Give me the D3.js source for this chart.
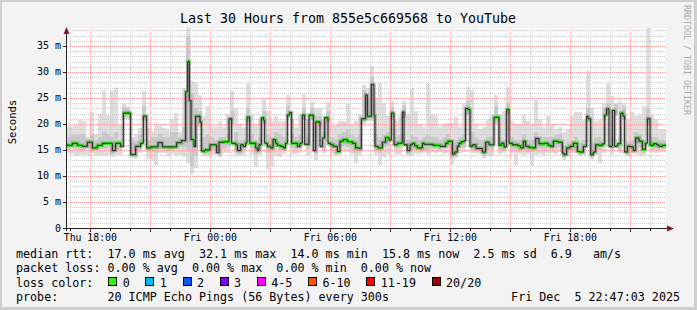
<!DOCTYPE html>
<meta charset="utf-8">
<html lang="en">
  <head>
    <script src="https://cdn.jsdelivr.net/npm/d3@7"></script>
    <style>
      body { margin: 0; background: #fff; }
      text { font-family: "DejaVu Sans Mono", monospace; }
    </style>
  </head>
  <body>
    <svg id="chart" width="697" height="310"></svg>

  <script>
    // median rtt as a step line: minutes after Thu 16:47:03 -> value in ms
    const medianMinutes = [0,19,34,49,64,79,94,109,139,149,164,172,194,209,224,232,242,254,276,289,
      332,346,359,365,370,375,384,389,402,406,417,432,452,459,474,489,497,509,514,524,
      532,539,543,551,569,574,579,586,593,596,604,614,621,629,634,644,652,659,664,671,
      677,694,702,709,716,729,742,749,762,769,776,786,794,802,814,822,832,844,859,869,
      879,886,899,904,916,924,927,936,949,959,969,976,984,994,1009,1014,1024,1032,1039,1046,
      1054,1069,1074,1102,1122,1139,1146,1159,1166,1174,1179,1186,1194,1199,1206,1212,1219,1230,1249,1259,
      1269,1284,1299,1306,1314,1322,1329,1339,1356,1364,1372,1379,1389,1399,1409,1419,1436,1446,1454,1462,
      1476,1489,1494,1502,1512,1522,1534,1542,1552,1562,1566,1574,1582,1589,1599,1609,1616,1622,1629,1639,
      1646,1654,1664,1671,1676,1684,1694,1702,1709,1719,1729,1739,1744,1752,1762,1772,1779,1789];
    const medianMs = [15.9,16.3,15.9,15.7,16.5,15.4,15.9,16.3,14.9,16.3,15.7,22.1,14.1,15.7,16.3,21.5,15.4,15.6,16.4,15.6,
      16.4,16.8,26.2,32.0,24.5,17.0,15.7,21.5,20.4,14.8,15.0,16.0,14.5,16.5,16.6,21.0,16.3,16.0,14.9,16.0,
      15.7,16.3,21.3,16.3,15.4,14.9,16.0,21.2,20.7,16.3,15.7,15.4,17.0,16.3,15.9,15.7,15.4,16.3,21.7,22.2,
      16.3,15.7,16.3,21.7,16.1,21.7,14.9,20.4,15.7,17.3,21.2,16.3,16.0,15.7,14.7,16.7,17.0,16.6,16.3,15.4,
      15.3,21.0,25.6,21.5,27.6,21.7,15.7,15.4,16.5,17.4,16.9,22.1,16.0,16.3,22.3,16.0,14.9,16.0,16.3,15.8,
      15.4,16.3,16.1,15.9,15.7,16.3,16.7,14.2,14.6,15.7,16.3,16.6,16.8,23.0,22.8,15.7,16.0,15.3,14.6,16.5,
      16.0,21.3,15.9,16.3,15.6,22.8,16.3,16.0,15.8,15.4,16.7,15.7,15.5,15.4,17.2,16.2,16.3,15.9,15.7,16.7,
      16.5,14.4,14.1,15.4,15.7,16.3,14.7,14.6,15.7,21.5,21.0,14.1,14.6,16.0,15.9,16.2,21.7,22.9,15.7,22.6,
      15.7,16.2,22.1,21.5,14.6,15.7,15.6,14.9,17.3,16.7,15.1,16.3,21.0,15.9,16.2,16.0,15.7,15.9];

    // smoke: 150 slots of 12 minutes each (ms)
    const smokeMax = [19.6,19.5,19.9,20.8,20.5,17.5,22.4,18.0,22.0,26.6,
      21.8,26.3,27.0,19.9,23.8,23.5,17.5,18.0,19.2,26.3,
      19.2,18.6,19.9,19.9,19.2,18.9,21.0,22.1,18.5,26.9,
      38.5,28.2,28.0,25.6,21.5,23.4,19.5,19.5,20.5,19.5,
      22.0,26.3,23.0,20.0,19.5,27.9,22.0,20.0,21.0,25.0,
      22.5,20.5,21.5,20.5,20.5,25.6,21.0,19.5,22.0,25.8,
      21.0,24.2,23.1,23.0,21.0,24.2,19.9,19.9,20.5,20.5,
      23.8,20.0,20.5,22.0,27.5,27.0,31.1,25.0,27.9,24.0,
      21.5,24.4,20.5,21.5,24.5,22.0,26.9,22.5,20.0,19.5,
      27.9,22.0,21.8,19.5,20.0,20.2,20.2,21.3,19.5,24.0,
      27.2,26.6,20.0,19.0,19.5,21.0,22.0,25.6,22.0,22.5,
      27.2,20.5,20.0,20.0,21.8,20.5,20.0,24.7,21.0,19.5,
      21.5,20.0,19.0,19.5,18.5,19.0,21.5,22.4,22.4,21.0,
      30.1,23.0,20.5,21.0,24.0,27.9,25.3,24.0,24.5,24.0,
      21.0,22.4,21.5,22.0,23.4,38.5,21.8,21.0,19.0,19.0];
    const smokeMin = [14.5,14.3,13.8,14.1,14.1,14.0,14.5,14.0,13.9,13.9,
      14.1,13.7,14.0,14.1,21.0,21.0,13.5,13.3,14.4,20.5,
      13.2,12.8,12.2,14.4,14.5,13.8,14.2,13.9,14.0,13.7,
      12.5,10.3,11.5,19.5,13.8,13.9,14.0,14.3,13.6,14.5,
      14.4,20.0,14.0,13.8,14.0,20.3,14.3,12.0,14.0,20.0,
      11.2,12.0,13.8,13.6,14.2,21.0,14.2,14.2,14.4,20.8,
      14.0,20.7,13.1,19.5,14.4,20.2,14.2,13.8,14.0,14.6,
      14.6,14.2,12.5,14.0,20.0,20.5,20.5,14.0,12.2,13.7,
      14.3,21.0,14.2,14.2,21.2,13.8,13.8,14.2,14.3,14.4,
      14.0,14.6,14.5,14.6,14.3,14.5,12.2,13.5,14.5,14.6,
      21.8,14.4,14.5,14.2,13.5,13.8,13.8,20.0,14.2,14.5,
      21.8,14.4,12.2,14.2,14.0,14.2,12.0,14.0,14.3,14.0,
      14.5,14.5,14.3,14.7,13.1,13.8,14.4,14.5,13.8,14.0,
      20.3,13.2,14.0,12.5,14.4,21.5,14.2,21.5,14.5,20.8,
      13.8,14.4,14.2,13.8,14.0,20.0,14.6,14.5,14.6,14.6];
    const smokeMidHi = [17.5,17.8,17.8,18.0,18.0,17.2,18.0,17.0,17.5,18.5,
      18.0,17.5,18.5,17.0,23.2,23.0,16.5,16.8,17.8,23.5,
      17.0,17.5,17.5,18.0,17.5,17.5,18.5,18.5,17.5,19.5,
      37.0,26.0,23.0,22.5,17.5,17.8,17.5,17.0,17.5,17.5,
      18.0,22.5,18.5,17.0,17.0,23.0,18.0,17.0,17.5,22.5,
      18.0,17.5,18.5,18.0,17.5,23.5,18.0,17.5,17.8,23.0,
      17.5,23.0,21.5,21.5,18.5,22.5,17.5,17.2,18.0,18.5,
      19.0,17.8,17.5,18.0,26.5,25.0,29.0,18.0,17.5,18.0,
      18.5,23.3,17.5,17.8,23.5,17.0,17.8,17.5,17.0,17.5,
      18.0,17.5,17.5,17.0,17.5,18.0,16.5,17.0,17.5,18.0,
      24.5,18.5,17.5,17.0,17.0,17.5,17.5,23.5,17.5,17.0,
      24.0,17.5,17.0,17.0,18.0,17.0,17.0,18.5,17.5,17.5,
      17.5,17.5,17.8,18.0,16.0,16.5,17.0,17.5,16.5,17.0,
      23.0,16.5,17.5,17.5,23.0,24.0,17.5,23.8,17.5,23.5,
      16.5,17.0,18.5,18.0,17.0,23.0,17.5,17.5,17.0,17.0];
    const smokeMidLo = [15.0,15.3,15.1,15.0,15.0,15.3,14.8,15.0,15.2,15.2,
      15.3,14.3,15.2,15.0,21.3,21.2,13.8,14.8,15.0,20.8,
      14.6,14.6,14.5,15.2,15.0,14.9,14.8,15.4,15.5,15.6,
      15.0,12.0,14.0,20.0,14.2,14.3,15.0,14.8,13.9,15.2,
      15.5,20.5,15.0,14.3,15.0,20.6,15.3,14.2,15.0,20.3,
      14.5,14.5,15.5,15.0,14.8,21.3,15.3,15.2,15.2,21.0,
      15.2,21.0,14.2,19.8,15.0,20.5,15.0,14.2,15.5,15.8,
      15.5,15.0,14.5,14.6,20.3,20.8,21.0,14.8,14.5,15.5,
      16.0,21.4,15.2,15.3,21.5,14.2,15.0,15.0,14.7,15.0,
      15.0,15.3,15.2,15.0,15.3,15.6,13.5,14.0,15.3,15.6,
      22.0,15.0,15.2,14.8,13.9,15.0,15.0,20.5,15.0,14.8,
      22.0,15.2,15.0,14.6,15.2,14.7,14.7,16.2,15.3,15.2,
      15.3,15.0,15.3,15.5,13.6,14.5,15.0,14.8,14.0,15.0,
      20.5,13.6,15.0,15.0,20.8,22.0,15.0,21.8,15.0,21.0,
      14.0,14.5,16.2,15.5,14.5,20.5,15.0,15.2,15.0,15.2];

    const yTicks = [0, 5, 10, 15, 20, 25, 30, 35];
    const xLabels = [[4, 18, 'Thu 18:00'], [5, 0, 'Fri 00:00'], [5, 6, 'Fri 06:00'], [5, 12, 'Fri 12:00'], [5, 18, 'Fri 18:00']];
    const lossLabels = ['0', '1', '2', '3', '4-5', '6-10', '11-19', '20/20'];
    const lossColors = ['#26ff00', '#00b8ff', '#0059ff', '#7e00ff', '#ff00ff', '#ff5500', '#ff0000', '#a10000'];
    const legendRows = [
      'median rtt:  17.0 ms avg  32.1 ms max  14.0 ms min  15.8 ms now  2.5 ms sd  6.9   am/s',
      'packet loss: 0.00 % avg  0.00 % max  0.00 % min  0.00 % now',
      'loss color:',
      'probe:       20 ICMP Echo Pings (56 Bytes) every 300s'
    ];
    const stamp = 'Fri Dec  5 22:47:03 2025';

    const start = new Date(2025, 11, 4, 16, 47, 3);
    const end = new Date(2025, 11, 5, 22, 47, 3);
    const atMin = m => new Date(start.getTime() + m * 60000);

    const x = d3.scaleTime().domain([start, end]).range([66, 666]);
    const y = d3.scaleLinear().domain([0, 38.46]).range([228, 28]);
    const svg = d3.select('#chart');
    const px = v => Math.round(v) + 0.5;

    // frame
    svg.append('rect').attr('width', 697).attr('height', 310).attr('fill', '#cfcfcf');
    svg.append('rect').attr('x', 2).attr('y', 2).attr('width', 692).attr('height', 305).attr('fill', '#f3f3f3');
    svg.append('rect').attr('x', 66).attr('y', 28).attr('width', 600).attr('height', 200).attr('fill', '#fff');

    // smoke
    const smoke = svg.append('g').attr('shape-rendering', 'crispEdges');
    smokeMax.forEach(function(hi, i) {
      const x0 = x(atMin(i * 12)), x1 = x(atMin(i * 12 + 12));
      const top = Math.min(hi, 38.46);
      smoke.append('rect').attr('x', x0).attr('width', x1 - x0)
        .attr('y', y(top)).attr('height', y(smokeMin[i]) - y(top))
        .attr('fill', '#dedede');
      const mHi = Math.min(smokeMidHi[i], top), mLo = Math.max(smokeMidLo[i], smokeMin[i]);
      smoke.append('rect').attr('x', x0).attr('width', x1 - x0)
        .attr('y', y(mHi)).attr('height', Math.max(0, y(mLo) - y(mHi)))
        .attr('fill', '#c9c9c9');
    });

    // grid
    const grid = svg.append('g').attr('shape-rendering', 'crispEdges').attr('stroke-dasharray', '1,1');
    const hours = d3.timeHour.range(d3.timeHour.ceil(start), end);
    grid.selectAll('.vx').data(hours).enter().append('line')
      .attr('x1', d => px(x(d))).attr('x2', d => px(x(d)))
      .attr('y1', 28).attr('y2', 228)
      .attr('stroke', d => d.getHours() % 3 == 0 ? '#ff9a9a' : '#c8c8c8');
    grid.selectAll('.hy').data(d3.range(1, 39)).enter().append('line')
      .attr('x1', 66).attr('x2', 666)
      .attr('y1', d => px(y(d))).attr('y2', d => px(y(d)))
      .attr('stroke', d => d % 5 == 0 ? '#ff9a9a' : '#c8c8c8');

    // median: dark halo, green loss band, black line
    const pts = medianMinutes.map((m, i) => [atMin(m), medianMs[i]]);
    pts.push([end, medianMs[medianMs.length - 1]]);
    const step = d3.line().x(d => x(d[0])).y(d => y(d[1])).curve(d3.curveStepAfter);
    svg.append('path').attr('d', step(pts)).attr('fill', 'none')
      .attr('stroke', '#4a4a4a').attr('stroke-width', 3.5).attr('stroke-opacity', 0.35);
    svg.append('g').selectAll('rect').data(pts.slice(0, -1)).enter().append('rect')
      .attr('x', d => x(d[0]))
      .attr('width', (d, i) => x(pts[i + 1][0]) - x(d[0]))
      .attr('y', d => y(d[1]) - 1.5).attr('height', 3)
      .attr('fill', lossColors[0]);
    svg.append('path').attr('d', step(pts)).attr('fill', 'none')
      .attr('stroke', '#202020').attr('stroke-width', 1);

    // axes
    const ax = svg.append('g').attr('shape-rendering', 'crispEdges');
    ax.append('line').attr('x1', 66.5).attr('x2', 66.5).attr('y1', 33).attr('y2', 231).attr('stroke', '#222');
    ax.append('line').attr('x1', 63).attr('x2', 668).attr('y1', 228.5).attr('y2', 228.5).attr('stroke', '#222');
    svg.append('path').attr('d', 'M66.5,27 L63.5,34 L69.5,34 Z').attr('fill', '#8b1a1a');
    svg.append('path').attr('d', 'M674,228.5 L667,225.5 L667,231.5 Z').attr('fill', '#8b1a1a');
    ax.selectAll('.tx').data(hours).enter().append('line')
      .attr('x1', d => px(x(d))).attr('x2', d => px(x(d)))
      .attr('y1', 229).attr('y2', d => d.getHours() % 3 == 0 ? 232 : 231)
      .attr('stroke', '#222');
    ax.selectAll('.ty').data(yTicks).enter().append('line')
      .attr('x1', 63).attr('x2', 66)
      .attr('y1', d => px(y(d))).attr('y2', d => px(y(d)))
      .attr('stroke', '#222');

    svg.selectAll('.yl').data(yTicks).enter().append('text')
      .attr('x', 61).attr('y', d => y(d) + 3.5)
      .attr('text-anchor', 'end').attr('font-size', '10px')
      .text(d => d == 0 ? '0' : d + ' m');
    svg.selectAll('.xl').data(xLabels).enter().append('text')
      .attr('x', d => x(new Date(2025, 11, d[0], d[1], 0, 0))).attr('y', 241)
      .attr('text-anchor', 'middle').attr('font-size', '9.8px')
      .text(d => d[2]);

    // titles
    svg.append('text').attr('x', 348).attr('y', 23).attr('text-anchor', 'middle')
      .attr('font-size', '13.3px').text('Last 30 Hours from 855e5c669568 to YouTube');
    svg.append('text').attr('transform', 'translate(15.5,122) rotate(-90)')
      .attr('text-anchor', 'middle').attr('font-size', '10.6px').text('Seconds');
    svg.append('text').attr('transform', 'translate(684,5) rotate(90)')
      .attr('font-size', '8.3px').attr('fill', '#aaaaaa').text('RRDTOOL / TOBI OETIKER');

    // legend
    const rowY = [258, 272.3, 286.5, 300.7];
    legendRows.forEach(function(row, i) {
      svg.append('text').attr('x', 16).attr('y', rowY[i])
        .attr('xml:space', 'preserve').style('white-space', 'pre')
        .attr('font-size', '11.7px').text(row);
    });
    svg.append('text').attr('x', 680).attr('y', rowY[3])
      .attr('text-anchor', 'end').attr('xml:space', 'preserve').style('white-space', 'pre')
      .attr('font-size', '11.7px').text(stamp);

    let bx = 108.3;
    lossLabels.forEach(function(lbl, i) {
      svg.append('rect').attr('x', Math.round(bx) + 0.5).attr('y', 277.5)
        .attr('width', 8).attr('height', 8)
        .attr('fill', lossColors[i]).attr('stroke', '#000').attr('shape-rendering', 'crispEdges');
      svg.append('text').attr('x', bx + 14.4).attr('y', rowY[2])
        .attr('font-size', '11.7px').text(lbl);
      bx += 14.4 + lbl.length * 7.04 + 15.7;
    });
  </script>
  </body>
</html>
